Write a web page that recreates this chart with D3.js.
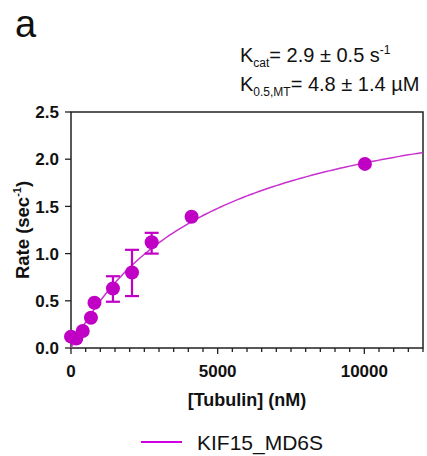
<!DOCTYPE html>
<html>
<head>
<meta charset="utf-8">
<script src="https://cdn.jsdelivr.net/npm/d3@7"></script>
<style>
  body { margin: 0; background: #fff; }
  svg { font-family: Arial, "Liberation Sans", sans-serif; }
</style>
</head>
<body>
<svg id="chart" width="427" height="456"></svg>
<script>
// Data
const tubulin = [0, 180, 400, 680, 800, 1430, 2080, 2750, 4110, 10020];
const rate = [0.12, 0.10, 0.18, 0.32, 0.48, 0.63, 0.80, 1.12, 1.39, 1.95];
const errLow = [null, null, null, null, null, 0.49, 0.55, 1.00, null, null];
const errHigh = [null, null, null, null, null, 0.76, 1.04, 1.22, null, null];

// fitted parameters shown in the panel
const kcat = 2.9;     // s^-1
const k05 = 4800;     // nM

const xTicks = [0, 5000, 10000];
const yTicks = [0, 0.5, 1.0, 1.5, 2.0, 2.5];

const purple = "#c000c4";

const svg = d3.select("#chart");
const margin = { left: 71, right: 4, top: 112, bottom: 108 };
const W = 427, H = 456;

const x = d3.scaleLinear().domain([0, 12000]).range([margin.left, W - margin.right]);
const y = d3.scaleLinear().domain([0, 2.5]).range([H - margin.bottom, margin.top]);

// frame
svg.append("rect")
    .attr("x", x(0)).attr("y", y(2.5))
    .attr("width", x(12000) - x(0)).attr("height", y(0) - y(2.5))
    .attr("fill", "none").attr("stroke", "#222").attr("stroke-width", 1.5);

// x axis, major + minor ticks
const xAxis = svg.append("g").attr("transform", `translate(0,${y(0)})`);
xAxis.selectAll(".minor")
    .data(d3.range(0, 12001, 500))
    .join("line")
    .attr("x1", d => x(d)).attr("x2", d => x(d))
    .attr("y1", 0).attr("y2", d => d % 5000 === 0 ? 6 : 4)
    .attr("stroke", "#222").attr("stroke-width", 1.3);
xAxis.selectAll("text")
    .data(xTicks)
    .join("text")
    .attr("x", d => x(d)).attr("y", 29)
    .attr("text-anchor", "middle")
    .attr("font-size", 17).attr("font-weight", "bold").attr("fill", "#111")
    .text(d => d);

// y axis
const yAxis = svg.append("g").attr("transform", `translate(${x(0)},0)`);
yAxis.selectAll("line")
    .data(yTicks)
    .join("line")
    .attr("x1", -6).attr("x2", 0)
    .attr("y1", d => y(d)).attr("y2", d => y(d))
    .attr("stroke", "#222").attr("stroke-width", 1.3);
yAxis.selectAll("text")
    .data(yTicks)
    .join("text")
    .attr("x", -12).attr("y", d => y(d))
    .attr("dy", "0.36em")
    .attr("text-anchor", "end")
    .attr("font-size", 17).attr("font-weight", "bold").attr("fill", "#111")
    .text(d => d3.format(".1f")(d));

// axis titles
svg.append("text")
    .attr("x", (x(0) + x(12000)) / 2 + 0).attr("y", 406)
    .attr("text-anchor", "middle")
    .attr("font-size", 18).attr("font-weight", "bold").attr("fill", "#111")
    .text("[Tubulin] (nM)");

const yl = svg.append("text")
    .attr("transform", `translate(29,${(y(0) + y(2.5)) / 2}) rotate(-90)`)
    .attr("text-anchor", "middle")
    .attr("font-size", 18.5).attr("font-weight", "bold").attr("fill", "#111");
yl.append("tspan").text("Rate (sec");
yl.append("tspan").attr("font-size", 11).attr("dy", -8).text("-1");
yl.append("tspan").attr("dy", 8).text(")");

// fit curve
const fit = d3.range(0, 12001, 100).map(s => [s, kcat * s / (k05 + s)]);
svg.append("path")
    .datum(fit)
    .attr("fill", "none")
    .attr("stroke", "#c830d0")
    .attr("stroke-width", 1.5)
    .attr("d", d3.line().x(d => x(d[0])).y(d => y(d[1])));

// error bars
const pts = tubulin.map((t, i) => ({ t, r: rate[i], lo: errLow[i], hi: errHigh[i] }));
const eb = svg.append("g").attr("stroke", purple).attr("stroke-width", 2.2);
pts.filter(d => d.lo !== null).forEach(d => {
    eb.append("line").attr("x1", x(d.t)).attr("x2", x(d.t)).attr("y1", y(d.lo)).attr("y2", y(d.hi));
    eb.append("line").attr("x1", x(d.t) - 7).attr("x2", x(d.t) + 7).attr("y1", y(d.lo)).attr("y2", y(d.lo));
    eb.append("line").attr("x1", x(d.t) - 7).attr("x2", x(d.t) + 7).attr("y1", y(d.hi)).attr("y2", y(d.hi));
});

// points
svg.append("g").selectAll("circle")
    .data(pts)
    .join("circle")
    .attr("cx", d => x(d.t)).attr("cy", d => y(d.r))
    .attr("r", 7)
    .attr("fill", purple);

// panel letter
svg.append("text").attr("x", 15).attr("y", 37)
    .attr("font-size", 38).attr("fill", "#111").text("a");

// parameters
const t1 = svg.append("text").attr("x", 240).attr("y", 62).attr("font-size", 20).attr("fill", "#111");
t1.append("tspan").text("K");
t1.append("tspan").attr("font-size", 12).attr("dy", 5).text("cat");
t1.append("tspan").attr("dy", -5).text("= 2.9 ± 0.5 s");
t1.append("tspan").attr("font-size", 12).attr("dy", -8).text("-1");

const t2 = svg.append("text").attr("x", 240).attr("y", 91).attr("font-size", 20).attr("fill", "#111");
t2.append("tspan").text("K");
t2.append("tspan").attr("font-size", 12).attr("dy", 5).text("0.5,MT");
t2.append("tspan").attr("dy", -5).text("= 4.8 ± 1.4 µM");

// legend
svg.append("line")
    .attr("x1", 141).attr("x2", 182).attr("y1", 442).attr("y2", 442)
    .attr("stroke", "#d000e0").attr("stroke-width", 2);
svg.append("text").attr("x", 197).attr("y", 450)
    .attr("font-size", 21).attr("fill", "#111").text("KIF15_MD6S");
</script>
</body>
</html>
